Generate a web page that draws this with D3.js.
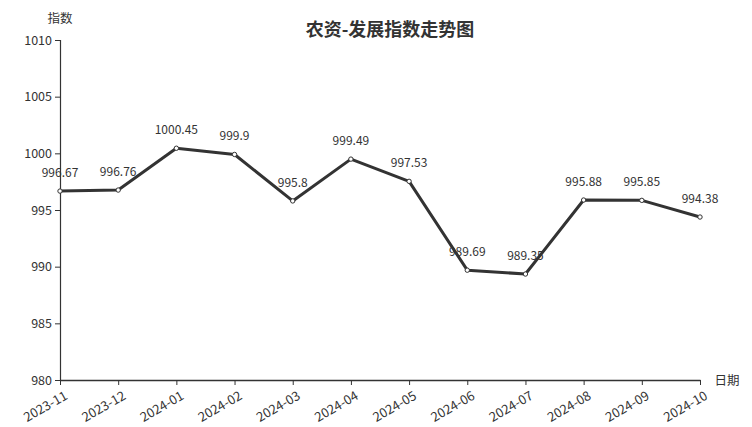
<!DOCTYPE html>
<html>
<head>
<meta charset="utf-8">
<script src="https://cdn.jsdelivr.net/npm/d3@7"></script>
<style>
body { margin: 0; background: #fff; }
svg text { font-family: "Noto Sans CJK SC", "Noto Sans", sans-serif; fill: #333; }
</style>
</head>
<body>
<div id="chart"></div>
<script>
var months = ['2023-11','2023-12','2024-01','2024-02','2024-03','2024-04','2024-05','2024-06','2024-07','2024-08','2024-09','2024-10'];
var values = [996.67, 996.76, 1000.45, 999.9, 995.8, 999.49, 997.53, 989.69, 989.35, 995.88, 995.85, 994.38];
var yTicks = [980, 985, 990, 995, 1000, 1005, 1010];

var width = 752, height = 427;
var margin = {top: 40, right: 52, bottom: 47, left: 60};

var svg = d3.select('#chart').append('svg')
    .attr('width', width)
    .attr('height', height);

var x = d3.scalePoint().domain(months).range([margin.left, width - margin.right]);
var y = d3.scaleLinear().domain([980, 1010]).range([height - margin.bottom, margin.top]);

// title
svg.append('text')
    .attr('x', 390).attr('y', 36)
    .attr('text-anchor', 'middle')
    .style('font-size', '18px')
    .style('font-weight', 'bold')
    .text('农资-发展指数走势图');

// y axis
var yAxis = svg.append('g')
    .attr('transform', 'translate(' + margin.left + ',0)')
    .call(d3.axisLeft(y).tickValues(yTicks).tickFormat(d3.format('d')).tickSize(5).tickPadding(3));
yAxis.select('.domain').attr('stroke', '#333').attr('stroke-width', 1.2);
yAxis.selectAll('line').attr('stroke', '#333');
yAxis.selectAll('text').style('font-size', '12.5px').attr('fill', '#333');

svg.append('text')
    .attr('x', 60).attr('y', 23)
    .attr('text-anchor', 'middle')
    .style('font-size', '12.5px')
    .text('指数');

// x axis
var xAxis = svg.append('g')
    .attr('transform', 'translate(0,' + (height - margin.bottom) + ')')
    .call(d3.axisBottom(x).tickSize(5).tickSizeOuter(0));
xAxis.select('.domain').attr('stroke', '#333').attr('stroke-width', 1.5);
xAxis.selectAll('line').attr('stroke', '#333');
xAxis.selectAll('text')
    .style('font-size', '13px')
    .attr('fill', '#333')
    .attr('text-anchor', 'end')
    .attr('dy', '0.3em')
    .attr('transform', 'translate(2,8) rotate(-30)');

svg.append('text')
    .attr('x', 727).attr('y', 385)
    .attr('text-anchor', 'middle')
    .style('font-size', '12.5px')
    .text('日期');

// line
var line = d3.line()
    .x(function(d, i) { return x(months[i]); })
    .y(function(d) { return y(d); });

svg.append('path')
    .datum(values)
    .attr('fill', 'none')
    .attr('stroke', '#333')
    .attr('stroke-width', 3)
    .attr('stroke-linejoin', 'round')
    .attr('d', line);

svg.selectAll('.dot')
    .data(values)
    .enter().append('circle')
    .attr('class', 'dot')
    .attr('cx', function(d, i) { return x(months[i]); })
    .attr('cy', function(d) { return y(d); })
    .attr('r', 2.2)
    .attr('fill', '#fff')
    .attr('stroke', '#333')
    .attr('stroke-width', 1);

svg.selectAll('.lbl')
    .data(values)
    .enter().append('text')
    .attr('class', 'lbl')
    .attr('x', function(d, i) { return x(months[i]); })
    .attr('y', function(d) { return y(d) - 14; })
    .attr('text-anchor', 'middle')
    .style('font-size', '12px')
    .text(function(d) { return d; });
</script>
</body>
</html>
